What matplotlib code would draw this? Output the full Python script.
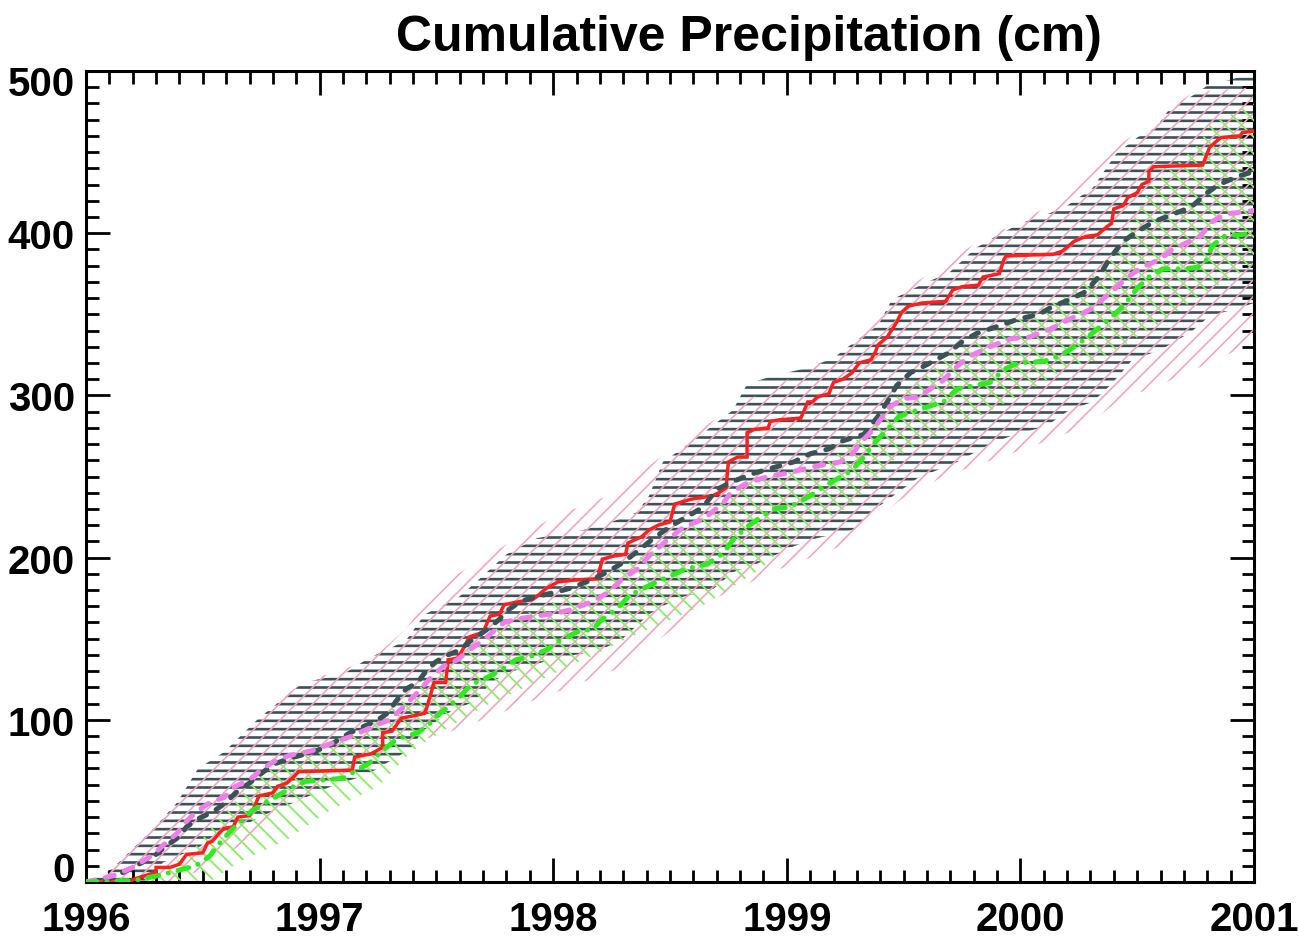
import numpy as np
import matplotlib
matplotlib.use("Agg")
import matplotlib.pyplot as plt
from matplotlib.ticker import MultipleLocator

plt.rcParams['font.family'] = ['Liberation Sans', 'DejaVu Sans']
plt.rcParams['font.weight'] = 'bold'

TITLE = "Cumulative Precipitation (cm)"
XTICKS = [1996, 1997, 1998, 1999, 2000, 2001]
XLABELS = ["1996", "1997", "1998", "1999", "2000", "2001"]
YTICKS = [0, 100, 200, 300, 400, 500]
YLABELS = ["0", "100", "200", "300", "400", "500"]

# ---- band edges (decimal year, cm) ----
gray_up_x = [1996.0, 1996.09, 1996.14, 1996.29, 1996.39, 1996.48, 1996.59, 1996.74, 1996.93, 1997.10, 1997.21, 1997.30,
             1997.37, 1997.45, 1997.59, 1997.67, 1997.80, 1997.93, 1998.13, 1998.25, 1998.36, 1998.41, 1998.47, 1998.58,
             1998.67, 1998.77, 1998.83, 1998.94, 1999.09, 1999.20, 1999.29, 1999.39, 1999.45, 1999.60, 1999.69, 1999.81,
             1999.93, 2000.02, 2000.12, 2000.20, 2000.31, 2000.41, 2000.50, 2000.58, 2000.63, 2000.75, 2000.80, 2000.96, 2001.0]
gray_up_y = [0, 6, 12, 33, 49, 70, 80, 101, 123, 128, 138, 144,
             149, 165, 175, 185, 202, 212, 217, 222, 228, 238, 259, 270,
             280, 291, 307, 312, 317, 323, 333, 343, 359, 370, 375, 391,
             401, 407, 412, 417, 428, 449, 459, 465, 475, 486, 491, 497, 498]
gray_lo_x = [1996.0, 1996.25, 1996.33, 1996.49, 1996.54, 1996.69, 1996.79, 1996.89, 1997.05, 1997.20, 1997.39, 1997.44,
             1997.52, 1997.57, 1997.66, 1997.73, 1997.79, 1997.89, 1998.02, 1998.20, 1998.29, 1998.41, 1998.53, 1998.68,
             1998.77, 1998.87, 1999.03, 1999.13, 1999.28, 1999.36, 1999.56, 1999.73, 1999.87, 1999.96, 2000.11, 2000.21,
             2000.31, 2000.39, 2000.45, 2000.48, 2000.60, 2000.73, 2000.81, 2000.94, 2001.0]
gray_lo_y = [0, 0, 12, 22, 28, 36, 43, 49, 59, 66, 82, 93,
             101, 106, 111, 122, 128, 133, 138, 143, 149, 165, 175, 180,
             191, 196, 207, 212, 217, 228, 249, 259, 270, 275, 281, 291,
             296, 307, 317, 322, 328, 339, 349, 354, 357]

pink_up_x = [1996.0, 1996.1, 1996.3, 1996.5, 1996.75, 1996.95, 1997.09, 1997.25, 1997.37, 1997.50, 1997.74, 1998.0,
             1998.25, 1998.46, 1998.76, 1999.2, 1999.45, 1999.8, 2000.1, 2000.4, 2000.74, 2001.0]
pink_up_y = [0, 10, 38, 72, 105, 125, 130, 141, 156, 182, 203, 225,
             239, 262, 292, 324, 360, 393, 415, 452, 487, 490]
pink_lo_x = [1996.0, 1996.35, 1996.49, 1996.7, 1996.92, 1997.13, 1997.35, 1997.53, 1998.29, 1998.68, 1998.97, 1999.27,
             1999.48, 1999.67, 2000.04, 2000.28, 2000.44, 2000.56, 2000.93, 2001.0]
pink_lo_y = [0, 0, 7, 26, 51, 69, 85, 91, 132, 174, 193, 209,
             235, 250, 268, 281, 299, 304, 328, 332]

green_up_x = [1996.0, 1996.3, 1996.47, 1996.6, 1996.74, 1996.91, 1997.19, 1997.36, 1997.61, 1997.79, 1997.96, 1998.21,
              1998.5, 1998.83, 1999.17, 1999.36, 1999.47, 1999.73, 1999.99, 2000.18, 2000.40, 2000.55, 2000.77, 2000.81, 2001.0]
green_up_y = [0, 3, 22, 44, 65, 80, 94, 112, 141, 160, 170, 188,
              210, 246, 259, 279, 299, 328, 347, 360, 385, 427, 456, 467, 480]
green_lo_x = [1996.0, 1996.54, 1996.65, 1996.86, 1997.03, 1997.25, 1997.39, 1997.47, 1997.70, 1997.79, 1998.04, 1998.19,
              1998.30, 1998.54, 1998.66, 1998.8, 1998.89, 1999.03, 1999.26, 1999.37, 1999.47, 1999.61, 1999.81, 1999.93,
              2000.05, 2000.21, 2000.34, 2000.55, 2000.81, 2001.0]
green_lo_y = [0, 1, 12, 26, 43, 59, 80, 88, 108, 114, 131, 141,
              149, 164, 172, 185, 193, 213, 231, 246, 262, 273, 286, 295,
              304, 318, 322, 340, 365, 380]

# ---- lines ----
red_x = [1996.0, 1996.18, 1996.21, 1996.30, 1996.30, 1996.36, 1996.40, 1996.42, 1996.43, 1996.50, 1996.52, 1996.54,
         1996.57, 1996.59, 1996.63, 1996.65, 1996.70, 1996.72, 1996.74, 1996.80, 1996.82, 1996.86, 1996.89, 1996.91,
         1997.14, 1997.15, 1997.22, 1997.27, 1997.27, 1997.31, 1997.35, 1997.42, 1997.45, 1997.46, 1997.49, 1997.54,
         1997.55, 1997.59, 1997.62, 1997.64, 1997.70, 1997.73, 1997.77, 1997.79, 1997.86, 1997.91, 1997.93, 1997.97,
         1998.02, 1998.08, 1998.19, 1998.21, 1998.26, 1998.31, 1998.32, 1998.38, 1998.41, 1998.45, 1998.50, 1998.52,
         1998.59, 1998.68, 1998.71, 1998.74, 1998.75, 1998.79, 1998.83, 1998.83, 1998.86, 1998.92, 1998.93, 1998.97,
         1999.06, 1999.09, 1999.11, 1999.13, 1999.18, 1999.20, 1999.24, 1999.28, 1999.31, 1999.36, 1999.38, 1999.39,
         1999.43, 1999.47, 1999.49, 1999.52, 1999.58, 1999.68, 1999.71, 1999.75, 1999.82, 1999.84, 1999.91, 1999.93,
         1999.94, 2000.14, 2000.18, 2000.23, 2000.28, 2000.33, 2000.37, 2000.39, 2000.40, 2000.44, 2000.46, 2000.50,
         2000.52, 2000.55, 2000.55, 2000.57, 2000.78, 2000.81, 2000.85, 2000.86, 2000.94, 2000.95, 2001.0]
red_y = [0, 0, 2, 6, 9, 9, 11, 15, 17, 18, 24, 25,
         30, 33, 34, 40, 41, 46, 53, 55, 59, 61, 65, 68,
         69, 77, 79, 83, 92, 93, 101, 103, 104, 108, 123, 123,
         137, 138, 145, 151, 154, 164, 165, 171, 173, 174, 176, 181,
         185, 186, 187, 199, 201, 202, 209, 213, 217, 220, 222, 233,
         236, 238, 240, 243, 259, 262, 262, 277, 279, 280, 284, 285,
         286, 296, 296, 299, 301, 308, 310, 314, 320, 322, 327, 331,
         336, 345, 351, 355, 357, 358, 365, 367, 368, 373, 375, 384,
         386, 387, 389, 395, 398, 399, 404, 406, 415, 417, 422, 425,
         430, 432, 438, 441, 442, 453, 458, 459, 460, 462, 463]

slate_x = [1996.0, 1996.09, 1996.16, 1996.24, 1996.30, 1996.34, 1996.40, 1996.43, 1996.48, 1996.54, 1996.60, 1996.64,
           1996.70, 1996.76, 1996.81, 1996.89, 1996.97, 1997.04, 1997.13, 1997.19, 1997.24, 1997.29, 1997.33, 1997.37,
           1997.42, 1997.46, 1997.50, 1997.55, 1997.60, 1997.64, 1997.67, 1997.72, 1997.77, 1997.80, 1997.86, 1997.93,
           1998.02, 1998.07, 1998.16, 1998.23, 1998.30, 1998.37, 1998.44, 1998.51, 1998.57, 1998.64, 1998.70, 1998.77,
           1998.86, 1998.93, 1999.03, 1999.10, 1999.18, 1999.24, 1999.33, 1999.39, 1999.43, 1999.47, 1999.53, 1999.60,
           1999.69, 1999.75, 1999.81, 1999.91, 1999.99, 2000.08, 2000.14, 2000.21, 2000.28, 2000.34, 2000.38, 2000.44,
           2000.50, 2000.57, 2000.64, 2000.73, 2000.80, 2000.85, 2000.93, 2001.0]
slate_y = [0, 2, 6, 12, 17, 22, 28, 34, 39, 43, 49, 55,
           61, 68, 73, 77, 80, 84, 92, 96, 99, 104, 112, 119,
           123, 131, 136, 140, 143, 148, 151, 156, 162, 167, 173, 176,
           179, 181, 186, 191, 197, 205, 213, 220, 225, 231, 242, 247,
           252, 255, 259, 264, 267, 272, 276, 287, 296, 306, 314, 319,
           326, 333, 338, 343, 347, 350, 355, 359, 364, 374, 384, 395,
           401, 407, 411, 416, 425, 430, 435, 438]

violet_x = [1996.0, 1996.12, 1996.20, 1996.29, 1996.34, 1996.39, 1996.42, 1996.47, 1996.53, 1996.59, 1996.64, 1996.70,
            1996.74, 1996.80, 1996.87, 1996.97, 1997.06, 1997.14, 1997.23, 1997.30, 1997.36, 1997.42, 1997.47, 1997.53,
            1997.59, 1997.64, 1997.70, 1997.74, 1997.79, 1997.84, 1997.93, 1998.02, 1998.08, 1998.17, 1998.24, 1998.29,
            1998.36, 1998.41, 1998.49, 1998.56, 1998.63, 1998.68, 1998.73, 1998.76, 1998.83, 1998.92, 1999.0, 1999.11,
            1999.23, 1999.28, 1999.33, 1999.37, 1999.40, 1999.44, 1999.50, 1999.56, 1999.66, 1999.73, 1999.78, 1999.87,
            1999.96, 2000.04, 2000.13, 2000.21, 2000.30, 2000.35, 2000.40, 2000.46, 2000.52, 2000.60, 2000.65, 2000.71,
            2000.77, 2000.82, 2000.88, 2000.95, 2001.0]
violet_y = [0, 4, 9, 17, 24, 30, 36, 43, 49, 52, 59, 63,
            68, 74, 78, 81, 86, 90, 96, 100, 108, 117, 125, 133,
            137, 143, 149, 154, 160, 162, 164, 166, 168, 173, 179, 186,
            193, 201, 211, 219, 223, 228, 234, 240, 246, 250, 252, 256,
            259, 264, 273, 279, 285, 293, 298, 299, 308, 318, 324, 330,
            335, 336, 341, 347, 353, 359, 365, 373, 379, 384, 390, 394,
            398, 407, 412, 413, 414]

green_x = [1996.0, 1996.21, 1996.31, 1996.39, 1996.47, 1996.53, 1996.56, 1996.59, 1996.63, 1996.67, 1996.71, 1996.77,
           1996.83, 1996.89, 1996.94, 1997.03, 1997.10, 1997.16, 1997.21, 1997.27, 1997.33, 1997.42, 1997.46, 1997.50,
           1997.55, 1997.60, 1997.63, 1997.67, 1997.73, 1997.79, 1997.84, 1997.90, 1997.97, 1998.03, 1998.10, 1998.17,
           1998.21, 1998.27, 1998.33, 1998.40, 1998.49, 1998.57, 1998.66, 1998.73, 1998.77, 1998.83, 1998.89, 1998.94,
           1999.01, 1999.10, 1999.16, 1999.21, 1999.28, 1999.33, 1999.37, 1999.43, 1999.48, 1999.56, 1999.67, 1999.73,
           1999.80, 1999.87, 1999.93, 1999.99, 2000.10, 2000.16, 2000.21, 2000.28, 2000.33, 2000.38, 2000.44, 2000.50,
           2000.55, 2000.61, 2000.70, 2000.76, 2000.80, 2000.82, 2000.87, 2000.93, 2001.0]
green_y = [0, 1, 4, 7, 10, 16, 22, 27, 33, 38, 44, 49,
           54, 59, 62, 63, 64, 69, 73, 81, 88, 92, 96, 102,
           108, 114, 119, 123, 127, 132, 137, 139, 143, 149, 154, 156,
           162, 168, 177, 182, 188, 193, 196, 203, 211, 219, 225, 230,
           231, 238, 244, 248, 254, 262, 270, 279, 287, 291, 296, 304,
           306, 308, 316, 320, 321, 324, 328, 335, 341, 347, 355, 366,
           373, 378, 378, 379, 384, 392, 398, 399, 400]

C_RED = '#FF1F1F'
C_SLATE = '#3B5257'
C_VIOLET = '#F07DEB'
C_GREEN = '#2EEA1E'
C_PINK_H = '#F0A6BF'
C_GREEN_H = '#8CEB6A'

fig = plt.figure(figsize=(12.99, 9.37), dpi=100)
ax = fig.add_axes([86 / 1299, 1 - 883 / 937, (1254 - 86) / 1299, (883 - 72) / 937])


def band(xu, yu, xl, yl, color, hatch, hlw, z):
    with plt.rc_context({'hatch.linewidth': hlw}):
        polys = ax.fill(np.concatenate([xu, np.array(xl)[::-1]]),
                        np.concatenate([yu, np.array(yl)[::-1]]),
                        facecolor='none', edgecolor=color, hatch=hatch,
                        linewidth=0, zorder=z)
        for p in polys:
            if hasattr(p, 'set_hatch_linewidth'):
                p.set_hatch_linewidth(hlw)


band(gray_up_x, gray_up_y, gray_lo_x, gray_lo_y, C_SLATE, '--', 1.9, 1)
band(pink_up_x, pink_up_y, pink_lo_x, pink_lo_y, C_PINK_H, '//', 1.2, 2)
band(green_up_x, green_up_y, green_lo_x, green_lo_y, C_GREEN_H, '\\\\', 1.3, 3)

lw = 3.6
ax.plot(red_x, red_y, color=C_RED, lw=2.5, zorder=5, solid_joinstyle='miter')
ax.plot(slate_x, slate_y, color=C_SLATE, lw=lw, dashes=(1.6, 2.2), dash_capstyle='round', zorder=6)
ax.plot(violet_x, violet_y, color=C_VIOLET, lw=lw, dashes=(1.8, 2.2), dash_capstyle='round', zorder=6)
ax.plot(green_x, green_y, color=C_GREEN, lw=lw, dashes=(2.2, 2.0, 0.01, 2.0), dash_capstyle='round', zorder=6)

ax.set_xlim(1996, 2001)
ax.set_ylim(0, 500)
ax.set_xticks(XTICKS, labels=XLABELS)
ax.set_yticks(YTICKS, labels=[''] + YLABELS[1:-1] + [''])
ax.xaxis.set_minor_locator(MultipleLocator(0.1))
ax.yaxis.set_minor_locator(MultipleLocator(10))
ax.tick_params(which='both', direction='in', top=True, right=True, width=2.0, color='black')
ax.tick_params(which='major', length=17)
ax.tick_params(which='minor', length=9)
ax.tick_params(axis='x', which='major', labelsize=29, pad=13)
ax.tick_params(axis='y', which='major', labelsize=29, pad=8)
for sp in ax.spines.values():
    sp.set_linewidth(2.2)

# end labels of the y axis are nudged inward, as in the original
ax.annotate(YLABELS[0], xy=(0, YTICKS[0]), xycoords=('axes fraction', 'data'),
            xytext=(-8, 9), textcoords='offset points', ha='right', va='center',
            fontsize=29, fontweight='bold')
ax.annotate(YLABELS[-1], xy=(0, YTICKS[-1]), xycoords=('axes fraction', 'data'),
            xytext=(-8, -9.5), textcoords='offset points', ha='right', va='center',
            fontsize=29, fontweight='bold')

fig.text(749 / 1299, 1 - 38 / 937, TITLE, ha='center', va='center', fontsize=36, fontweight='bold')

fig.savefig('out.png', dpi=100)
